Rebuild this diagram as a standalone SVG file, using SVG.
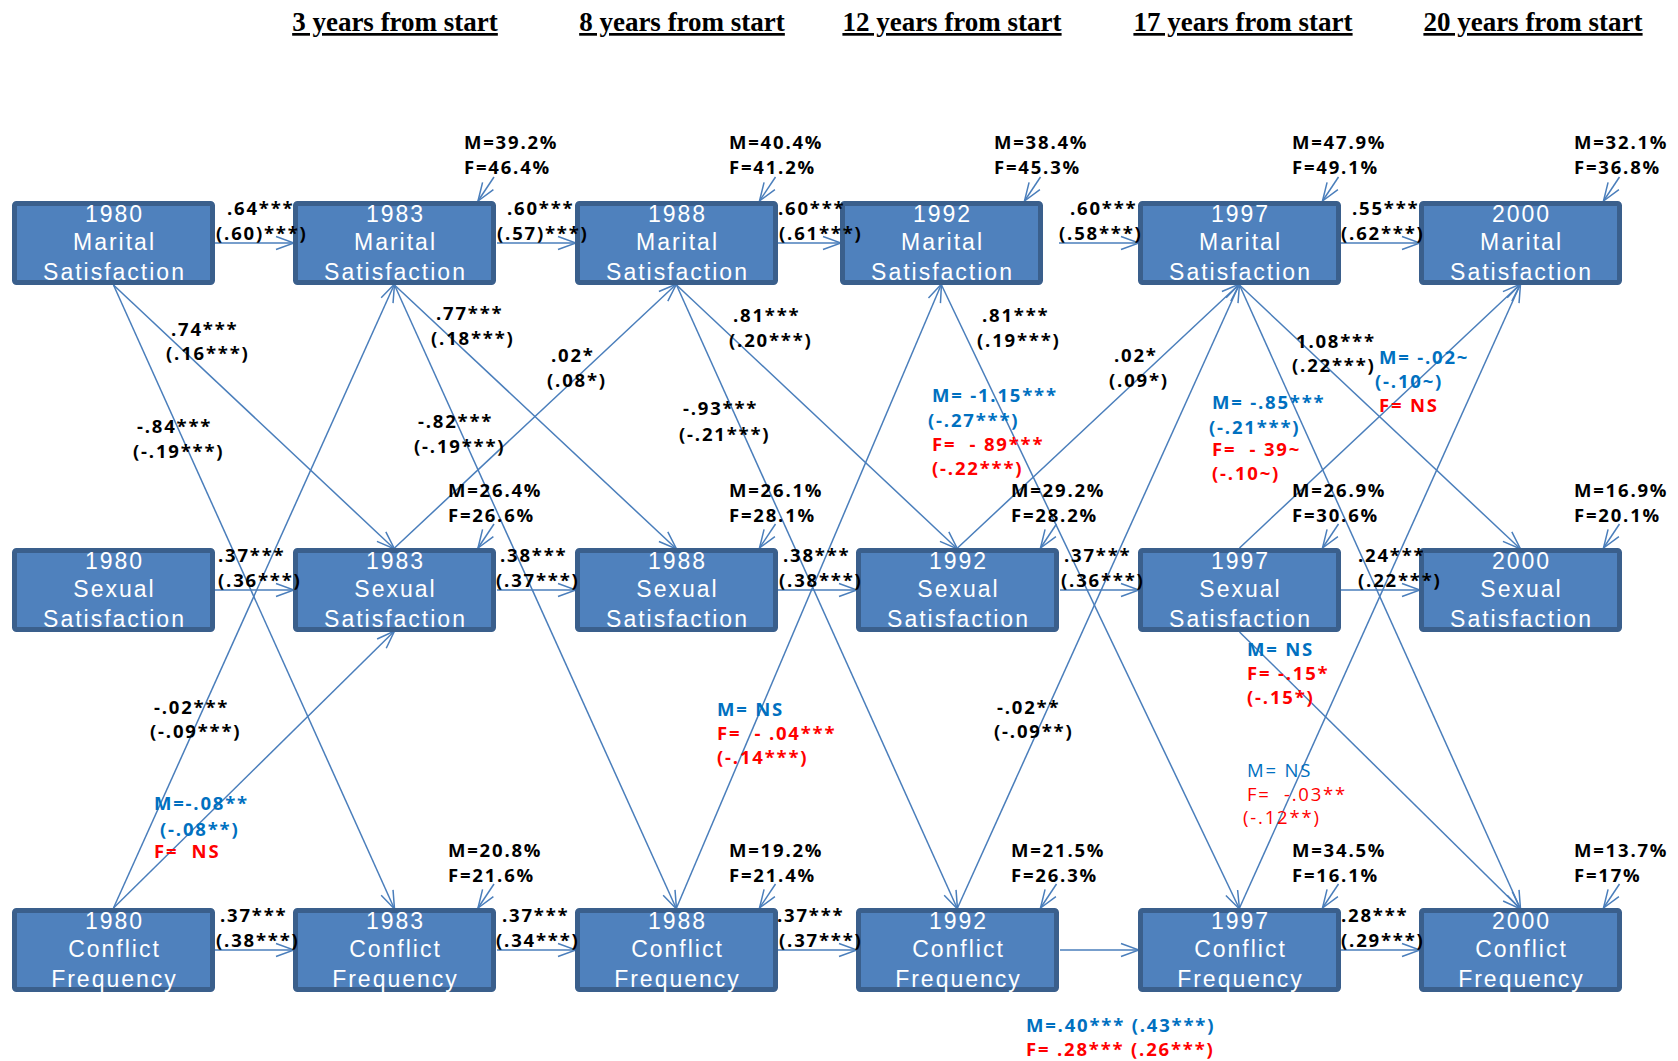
<svg xmlns="http://www.w3.org/2000/svg" width="1678" height="1061" viewBox="0 0 1678 1061">
<style>
.title{font-family:"Liberation Serif","Times New Roman",serif;font-weight:bold;font-size:27px;text-decoration:underline;fill:#000;text-anchor:middle}
.box{fill:#4F81BD;stroke:#3A5F8C;stroke-width:5}
.bt{font-family:"Liberation Sans",Arial,sans-serif;font-size:23px;fill:#fff;text-anchor:middle;letter-spacing:2px}
.lb{font-family:"Open Sans","Liberation Sans",sans-serif;font-size:18.5px;font-weight:bold;fill:#000;letter-spacing:1.8px;white-space:pre}
.bl{fill:#0070C0}
.rd{fill:#FF0000}
.rg{font-weight:normal}
.cn line{stroke:#4A7EBB;stroke-width:1.5;fill:none;marker-end:url(#ah)}
</style>
<defs>
<marker id="ah" markerUnits="userSpaceOnUse" markerWidth="22" markerHeight="18" viewBox="0 0 22 18" refX="20" refY="9" orient="auto">
<path d="M2,2.5 L20,9 L2,15.5" fill="none" stroke="#4A7EBB" stroke-width="1.5"/>
</marker>
</defs>
<rect width="1678" height="1061" fill="#fff"/>
<g id="titles">
<text class="title" x="395" y="31">3 years from start</text>
<text class="title" x="682" y="31">8 years from start</text>
<text class="title" x="952" y="31">12 years from start</text>
<text class="title" x="1243" y="31">17 years from start</text>
<text class="title" x="1533" y="31">20 years from start</text>
</g>
<g class="cn" id="connectors">
<line x1="215" y1="243" x2="294" y2="243"/>
<line x1="497" y1="243" x2="576" y2="243"/>
<line x1="778" y1="243" x2="841" y2="243"/>
<line x1="1059" y1="243" x2="1139" y2="243"/>
<line x1="1341" y1="243" x2="1420" y2="243"/>
<line x1="215" y1="590" x2="294" y2="590"/>
<line x1="497" y1="590" x2="576" y2="590"/>
<line x1="778" y1="590" x2="857" y2="590"/>
<line x1="1060" y1="590" x2="1139" y2="590"/>
<line x1="1341" y1="590" x2="1420" y2="590"/>
<line x1="215" y1="950" x2="294" y2="950"/>
<line x1="497" y1="950" x2="576" y2="950"/>
<line x1="778" y1="950" x2="857" y2="950"/>
<line x1="1060" y1="950" x2="1139" y2="950"/>
<line x1="1341" y1="950" x2="1420" y2="950"/>
<line x1="113.5" y1="285" x2="394.5" y2="549"/>
<line x1="113.5" y1="285" x2="394.5" y2="909"/>
<line x1="113.5" y1="908" x2="394.5" y2="284"/>
<line x1="113.5" y1="908" x2="394.5" y2="631"/>
<line x1="394.5" y1="285" x2="676.5" y2="549"/>
<line x1="394.5" y1="285" x2="676.5" y2="909"/>
<line x1="394.5" y1="548" x2="676.5" y2="284"/>
<line x1="676.5" y1="285" x2="957.5" y2="549"/>
<line x1="676.5" y1="285" x2="957.5" y2="909"/>
<line x1="676.5" y1="908" x2="941.5" y2="284"/>
<line x1="941.5" y1="285" x2="1239.5" y2="909"/>
<line x1="957.5" y1="548" x2="1239.5" y2="284"/>
<line x1="957.5" y1="908" x2="1239.5" y2="284"/>
<line x1="1239.5" y1="285" x2="1520.5" y2="549"/>
<line x1="1239.5" y1="285" x2="1520.5" y2="909"/>
<line x1="1239.5" y1="548" x2="1520.5" y2="284"/>
<line x1="1239.5" y1="908" x2="1520.5" y2="284"/>
<line x1="1239.5" y1="632" x2="1520.5" y2="909"/>
<line x1="494" y1="177" x2="478" y2="201"/>
<line x1="775.5" y1="177" x2="759.5" y2="201"/>
<line x1="1040.5" y1="177" x2="1024.5" y2="201"/>
<line x1="1338.5" y1="177" x2="1322.5" y2="201"/>
<line x1="1619.5" y1="177" x2="1603.5" y2="201"/>
<line x1="494" y1="524" x2="478" y2="548"/>
<line x1="775.5" y1="524" x2="759.5" y2="548"/>
<line x1="1056.5" y1="524" x2="1040.5" y2="548"/>
<line x1="1338.5" y1="524" x2="1322.5" y2="548"/>
<line x1="1619.5" y1="524" x2="1603.5" y2="548"/>
<line x1="494" y1="884" x2="478" y2="908"/>
<line x1="775.5" y1="884" x2="759.5" y2="908"/>
<line x1="1056.5" y1="884" x2="1040.5" y2="908"/>
<line x1="1338.5" y1="884" x2="1322.5" y2="908"/>
<line x1="1619.5" y1="884" x2="1603.5" y2="908"/>
</g>
<g id="n1980M"><rect class="box" x="14.5" y="203.5" width="198" height="79" rx="2"/><text class="bt"><tspan x="114.5" y="222">1980</tspan><tspan x="114.5" y="250">Marital</tspan><tspan x="114.5" y="280">Satisfaction</tspan></text></g>
<g id="n1983M"><rect class="box" x="295.5" y="203.5" width="198" height="79" rx="2"/><text class="bt"><tspan x="395.5" y="222">1983</tspan><tspan x="395.5" y="250">Marital</tspan><tspan x="395.5" y="280">Satisfaction</tspan></text></g>
<g id="n1988M"><rect class="box" x="577.5" y="203.5" width="198" height="79" rx="2"/><text class="bt"><tspan x="677.5" y="222">1988</tspan><tspan x="677.5" y="250">Marital</tspan><tspan x="677.5" y="280">Satisfaction</tspan></text></g>
<g id="n1992M"><rect class="box" x="842.5" y="203.5" width="198" height="79" rx="2"/><text class="bt"><tspan x="942.5" y="222">1992</tspan><tspan x="942.5" y="250">Marital</tspan><tspan x="942.5" y="280">Satisfaction</tspan></text></g>
<g id="n1997M"><rect class="box" x="1140.5" y="203.5" width="198" height="79" rx="2"/><text class="bt"><tspan x="1240.5" y="222">1997</tspan><tspan x="1240.5" y="250">Marital</tspan><tspan x="1240.5" y="280">Satisfaction</tspan></text></g>
<g id="n2000M"><rect class="box" x="1421.5" y="203.5" width="198" height="79" rx="2"/><text class="bt"><tspan x="1521.5" y="222">2000</tspan><tspan x="1521.5" y="250">Marital</tspan><tspan x="1521.5" y="280">Satisfaction</tspan></text></g>
<g id="n1980S"><rect class="box" x="14.5" y="550.5" width="198" height="79" rx="2"/><text class="bt"><tspan x="114.5" y="569">1980</tspan><tspan x="114.5" y="597">Sexual</tspan><tspan x="114.5" y="627">Satisfaction</tspan></text></g>
<g id="n1983S"><rect class="box" x="295.5" y="550.5" width="198" height="79" rx="2"/><text class="bt"><tspan x="395.5" y="569">1983</tspan><tspan x="395.5" y="597">Sexual</tspan><tspan x="395.5" y="627">Satisfaction</tspan></text></g>
<g id="n1988S"><rect class="box" x="577.5" y="550.5" width="198" height="79" rx="2"/><text class="bt"><tspan x="677.5" y="569">1988</tspan><tspan x="677.5" y="597">Sexual</tspan><tspan x="677.5" y="627">Satisfaction</tspan></text></g>
<g id="n1992S"><rect class="box" x="858.5" y="550.5" width="198" height="79" rx="2"/><text class="bt"><tspan x="958.5" y="569">1992</tspan><tspan x="958.5" y="597">Sexual</tspan><tspan x="958.5" y="627">Satisfaction</tspan></text></g>
<g id="n1997S"><rect class="box" x="1140.5" y="550.5" width="198" height="79" rx="2"/><text class="bt"><tspan x="1240.5" y="569">1997</tspan><tspan x="1240.5" y="597">Sexual</tspan><tspan x="1240.5" y="627">Satisfaction</tspan></text></g>
<g id="n2000S"><rect class="box" x="1421.5" y="550.5" width="198" height="79" rx="2"/><text class="bt"><tspan x="1521.5" y="569">2000</tspan><tspan x="1521.5" y="597">Sexual</tspan><tspan x="1521.5" y="627">Satisfaction</tspan></text></g>
<g id="n1980C"><rect class="box" x="14.5" y="910.5" width="198" height="79" rx="2"/><text class="bt"><tspan x="114.5" y="929">1980</tspan><tspan x="114.5" y="957">Conflict</tspan><tspan x="114.5" y="987">Frequency</tspan></text></g>
<g id="n1983C"><rect class="box" x="295.5" y="910.5" width="198" height="79" rx="2"/><text class="bt"><tspan x="395.5" y="929">1983</tspan><tspan x="395.5" y="957">Conflict</tspan><tspan x="395.5" y="987">Frequency</tspan></text></g>
<g id="n1988C"><rect class="box" x="577.5" y="910.5" width="198" height="79" rx="2"/><text class="bt"><tspan x="677.5" y="929">1988</tspan><tspan x="677.5" y="957">Conflict</tspan><tspan x="677.5" y="987">Frequency</tspan></text></g>
<g id="n1992C"><rect class="box" x="858.5" y="910.5" width="198" height="79" rx="2"/><text class="bt"><tspan x="958.5" y="929">1992</tspan><tspan x="958.5" y="957">Conflict</tspan><tspan x="958.5" y="987">Frequency</tspan></text></g>
<g id="n1997C"><rect class="box" x="1140.5" y="910.5" width="198" height="79" rx="2"/><text class="bt"><tspan x="1240.5" y="929">1997</tspan><tspan x="1240.5" y="957">Conflict</tspan><tspan x="1240.5" y="987">Frequency</tspan></text></g>
<g id="n2000C"><rect class="box" x="1421.5" y="910.5" width="198" height="79" rx="2"/><text class="bt"><tspan x="1521.5" y="929">2000</tspan><tspan x="1521.5" y="957">Conflict</tspan><tspan x="1521.5" y="987">Frequency</tspan></text></g>
<g id="pct">
<text class="lb"><tspan x="464" y="149">M=39.2%</tspan><tspan x="464" y="174">F=46.4%</tspan></text>
<text class="lb"><tspan x="729" y="149">M=40.4%</tspan><tspan x="729" y="174">F=41.2%</tspan></text>
<text class="lb"><tspan x="994" y="149">M=38.4%</tspan><tspan x="994" y="174">F=45.3%</tspan></text>
<text class="lb"><tspan x="1292" y="149">M=47.9%</tspan><tspan x="1292" y="174">F=49.1%</tspan></text>
<text class="lb"><tspan x="1574" y="149">M=32.1%</tspan><tspan x="1574" y="174">F=36.8%</tspan></text>
<text class="lb"><tspan x="448" y="497">M=26.4%</tspan><tspan x="448" y="522">F=26.6%</tspan></text>
<text class="lb"><tspan x="729" y="497">M=26.1%</tspan><tspan x="729" y="522">F=28.1%</tspan></text>
<text class="lb"><tspan x="1011" y="497">M=29.2%</tspan><tspan x="1011" y="522">F=28.2%</tspan></text>
<text class="lb"><tspan x="1292" y="497">M=26.9%</tspan><tspan x="1292" y="522">F=30.6%</tspan></text>
<text class="lb"><tspan x="1574" y="497">M=16.9%</tspan><tspan x="1574" y="522">F=20.1%</tspan></text>
<text class="lb"><tspan x="448" y="857">M=20.8%</tspan><tspan x="448" y="882">F=21.6%</tspan></text>
<text class="lb"><tspan x="729" y="857">M=19.2%</tspan><tspan x="729" y="882">F=21.4%</tspan></text>
<text class="lb"><tspan x="1011" y="857">M=21.5%</tspan><tspan x="1011" y="882">F=26.3%</tspan></text>
<text class="lb"><tspan x="1292" y="857">M=34.5%</tspan><tspan x="1292" y="882">F=16.1%</tspan></text>
<text class="lb"><tspan x="1574" y="857">M=13.7%</tspan><tspan x="1574" y="882">F=17%</tspan></text>
</g>
<g id="hlabels">
<text class="lb"><tspan x="227" y="215">.64***</tspan><tspan x="216" y="240">(.60)***)</tspan></text>
<text class="lb"><tspan x="507" y="215">.60***</tspan><tspan x="497" y="240">(.57)***)</tspan></text>
<text class="lb"><tspan x="778" y="215">.60***</tspan><tspan x="779" y="240">(.61***)</tspan></text>
<text class="lb"><tspan x="1070" y="215">.60***</tspan><tspan x="1059" y="240">(.58***)</tspan></text>
<text class="lb"><tspan x="1352" y="215">.55***</tspan><tspan x="1341" y="240">(.62***)</tspan></text>
<text class="lb"><tspan x="218" y="562">.37***</tspan><tspan x="218" y="587">(.36***)</tspan></text>
<text class="lb"><tspan x="500" y="562">.38***</tspan><tspan x="496" y="587">(.37***)</tspan></text>
<text class="lb"><tspan x="783" y="562">.38***</tspan><tspan x="779" y="587">(.38***)</tspan></text>
<text class="lb"><tspan x="1064" y="562">.37***</tspan><tspan x="1061" y="587">(.36***)</tspan></text>
<text class="lb"><tspan x="1358" y="562">.24***</tspan><tspan x="1358" y="587">(.22***)</tspan></text>
<text class="lb"><tspan x="220" y="922">.37***</tspan><tspan x="216" y="947">(.38***)</tspan></text>
<text class="lb"><tspan x="502" y="922">.37***</tspan><tspan x="496" y="947">(.34***)</tspan></text>
<text class="lb"><tspan x="777" y="922">.37***</tspan><tspan x="779" y="947">(.37***)</tspan></text>
<text class="lb"><tspan x="1341" y="922">.28***</tspan><tspan x="1341" y="947">(.29***)</tspan></text>
</g>
<g id="dlabels">
<text class="lb"><tspan x="171" y="336">.74***</tspan><tspan x="166" y="360">(.16***)</tspan></text>
<text class="lb"><tspan x="137" y="433">-.84***</tspan><tspan x="133" y="458">(-.19***)</tspan></text>
<text class="lb"><tspan x="436" y="320">.77***</tspan><tspan x="431" y="345">(.18***)</tspan></text>
<text class="lb"><tspan x="418" y="428">-.82***</tspan><tspan x="414" y="453">(-.19***)</tspan></text>
<text class="lb"><tspan x="551" y="362">.02*</tspan><tspan x="547" y="387">(.08*)</tspan></text>
<text class="lb"><tspan x="733" y="322">.81***</tspan><tspan x="729" y="347">(.20***)</tspan></text>
<text class="lb"><tspan x="683" y="415">-.93***</tspan><tspan x="679" y="441">(-.21***)</tspan></text>
<text class="lb"><tspan x="982" y="322">.81***</tspan><tspan x="977" y="347">(.19***)</tspan></text>
<text class="lb bl"><tspan x="932" y="402">M= -1.15***</tspan><tspan x="928" y="427">(-.27***)</tspan></text>
<text class="lb rd"><tspan x="932" y="451">F=  - 89***</tspan><tspan x="932" y="475">(-.22***)</tspan></text>
<text class="lb"><tspan x="1114" y="362">.02*</tspan><tspan x="1109" y="387">(.09*)</tspan></text>
<text class="lb"><tspan x="1296" y="348">1.08***</tspan><tspan x="1292" y="372">(.22***)</tspan></text>
<text class="lb bl"><tspan x="1379" y="364">M= -.02~</tspan><tspan x="1375" y="388">(-.10~)</tspan></text>
<text class="lb rd" x="1379" y="412">F= NS</text>
<text class="lb bl"><tspan x="1212" y="409">M= -.85***</tspan><tspan x="1209" y="434">(-.21***)</tspan></text>
<text class="lb rd"><tspan x="1212" y="456">F=  - 39~</tspan><tspan x="1212" y="480">(-.10~)</tspan></text>
<text class="lb bl" x="1247" y="656">M= NS</text>
<text class="lb rd"><tspan x="1247" y="680">F= -.15*</tspan><tspan x="1247" y="704">(-.15*)</tspan></text>
<text class="lb rg bl" x="1247" y="777">M= NS</text>
<text class="lb rg rd"><tspan x="1247" y="801">F=  -.03**</tspan><tspan x="1243" y="824">(-.12**)</tspan></text>
<text class="lb bl" x="717" y="716">M= NS</text>
<text class="lb rd"><tspan x="717" y="740">F=  - .04***</tspan><tspan x="717" y="764">(-.14***)</tspan></text>
<text class="lb"><tspan x="997" y="714">-.02**</tspan><tspan x="994" y="738">(-.09**)</tspan></text>
<text class="lb"><tspan x="154" y="714">-.02***</tspan><tspan x="150" y="738">(-.09***)</tspan></text>
<text class="lb bl"><tspan x="154" y="810">M=-.08**</tspan><tspan x="160" y="836">(-.08**)</tspan></text>
<text class="lb rd" x="154" y="858">F=  NS</text>
<text class="lb bl" x="1026" y="1032">M=.40*** (.43***)</text>
<text class="lb rd" x="1026" y="1056">F= .28*** (.26***)</text>
</g>
</svg>
